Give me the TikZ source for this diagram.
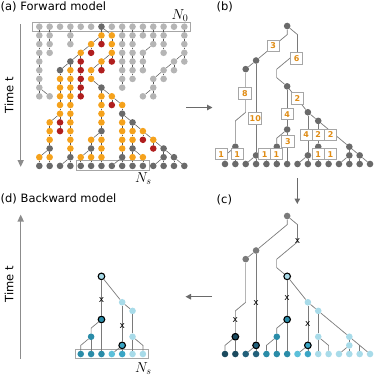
\documentclass[tikz,border=0pt]{standalone}
\usepackage{fontspec}
\newfontfamily\dv{DejaVu Sans}
\usetikzlibrary{arrows.meta}
\definecolor{lgray}{HTML}{B5B5B5}
\definecolor{dgray}{HTML}{6A6A6A}
\definecolor{egray}{HTML}{555555}
\definecolor{tgray}{HTML}{7A7A7A}
\definecolor{orng}{HTML}{F5A21C}
\definecolor{rd}{HTML}{B01E1E}
\definecolor{tA}{HTML}{1B4A5E}
\definecolor{tB}{HTML}{22607A}
\definecolor{tC}{HTML}{2A8CA8}
\definecolor{tD}{HTML}{5CC0DA}
\definecolor{tE}{HTML}{3AA5C5}
\definecolor{tF}{HTML}{A8DBE9}
\definecolor{numc}{HTML}{E08C14}
\newcommand\treeEdges[1]{%
 \draw[tlink] (#1R) -- (6,1) -- (#1B);
 \draw[tlink] (#1B) -- (#1C);
 \draw[tlink] (#1B) -- (#1D);
 \draw[llink] (#1C) -- (2,10);
 \draw[tlink] (2,10) -- (1,11) -- (#1E);
 \draw[tlink] (#1E) -- (0,15) -- (#1l0);
 \draw[tlink] (#1E) -- (#1l1);
 \draw[tlink] (#1D) -- (#1l2);
 \draw[tlink] (#1D) -- (#1l3);
 \draw[tlink] (#1R) -- (7,1) -- (7,3) -- (5,5);
 \draw[llink] (5,5) -- (5,6);
 \draw[tlink] (5,6) -- (#1A);
 \draw[tlink] (#1A) -- (#1F);
 \draw[tlink] (#1F) -- (5,13) -- (#1G);
 \draw[tlink] (#1F) -- (#1l6);
 \draw[tlink] (#1G) -- (4,15) -- (#1l4);
 \draw[tlink] (#1G) -- (#1l5);
 \draw[tlink] (#1A) -- (#1H);
 \draw[tlink] (#1H) -- (#1I);
 \draw[tlink] (#1I) -- (#1l7);
 \draw[tlink] (#1I) -- (#1l8);
 \draw[tlink] (#1H) -- (#1J);
 \draw[tlink] (#1J) -- (#1K);
 \draw[tlink] (#1K) -- (#1l9);
 \draw[tlink] (#1K) -- (10,15) -- (#1l10);
 \draw[tlink] (#1J) -- (#1L);
 \draw[tlink] (#1L) -- (#1M);
 \draw[tlink] (#1L) -- (#1N);
 \draw[tlink] (#1M) -- (#1l11);
 \draw[tlink] (#1M) -- (#1l12);
 \draw[tlink] (#1N) -- (#1l13);
 \draw[tlink] (#1N) -- (#1l14);
}
\begin{document}
\begin{tikzpicture}[x=1pt,y=-1pt,
  pdot/.style={circle,inner sep=0pt,minimum size=6.6pt,fill=#1},
  odot/.style={circle,inner sep=0pt,minimum size=6.6pt,fill=#1,draw=black,line width=1.1pt},
  lnk/.style={draw=egray,line width=0.5pt},
  tlink/.style={draw=tgray,line width=0.7pt},
  llink/.style={draw=lgray,line width=1.2pt},
  numbox/.style={draw=gray!70,fill=white,line width=0.7pt,minimum width=12.3pt,minimum height=11.3pt,inner sep=0pt,inner xsep=1pt,font=\dv\bfseries\fontsize{8}{8}\selectfont,text=numc},
  xmark/.style={font=\dv\fontsize{9}{9}\selectfont,inner sep=0pt,text=black},
  lbl/.style={font=\dv\fontsize{11.5}{13}\selectfont,inner sep=0pt},
  bigarrow/.style={draw=dgray,line width=1.2pt,-{Triangle[length=5.5pt,width=5.5pt]}},
  timearrow/.style={draw=gray!90,line width=1.6pt,-{Triangle[length=7pt,width=6pt]}},
  sbox/.style={draw=gray!70,line width=1pt}]
\useasboundingbox (0,0) rectangle (374,376);

% ---------- labels ----------
\node[lbl,anchor=base west] (la) at (0.5,10) {(a) Forward model};
\node[lbl,anchor=base west] (lb) at (216.5,10) {(b)};
\node[lbl,anchor=base west] (lc) at (216.5,203) {(c)};
\node[lbl,anchor=base west] (ld) at (0.5,202.5) {(d) Backward model};
\node[lbl,rotate=90] (ta) at (9,95) {Time t};
\node[lbl,rotate=90] (td) at (9,284) {Time t};
\coordinate (ta1) at (20.7,24); \coordinate (ta2) at (20.7,167);
\draw[timearrow] (ta1) -- (ta2);
\coordinate (td1) at (20.7,358.5); \coordinate (td2) at (20.7,214.5);
\draw[timearrow] (td1) -- (td2);

% ---------- panel arrows ----------
\coordinate (p1) at (186,107.5); \coordinate (p2) at (212.5,107.5);
\draw[bigarrow] (p1) -- (p2);
\coordinate (p3) at (297.3,178); \coordinate (p4) at (297.3,204);
\draw[bigarrow] (p3) -- (p4);
\coordinate (p5) at (212,296.7); \coordinate (p6) at (185.5,296.7);
\draw[bigarrow] (p5) -- (p6);

% ---------- panel (a) ----------
\draw[sbox] (32.8,22.6) rectangle (190.4,31);
\draw[sbox] (76,160.8) rectangle (149.3,170.8);
\node[anchor=base west,inner sep=0pt] (n0) at (171.5,19.3) {\Large $N_0$};
\node[anchor=base west,inner sep=0pt] (nsa) at (135,182.7) {\Large $N_s$};
\begin{scope}[shift={(39.3,26.7)},x=10.36pt,y=-8.7pt]
 \foreach \c/\r in {0/0,1/0,2/0,3/0,4/0,5/0,7/0,8/0,9/0,10/0,11/0,12/0,13/0,14/0,
   0/1,0/2,0/3,0/4,0/5,0/6,0/7,0/8,1/1,1/2,1/3,1/8,3/1,3/2,
   8/1,8/2,8/3,8/4,8/5,8/6,8/7,9/1,9/2,9/3,9/4,9/5,9/6,
   10/1,10/3,10/4,10/5,10/8,11/1,11/2,11/6,11/7,11/8,
   12/1,12/2,12/3,12/5,12/6,13/4,13/5,14/1,14/2,14/3,14/4}
   \node[pdot=lgray] (a\c-\r) at (\c,\r) {};
 \foreach \c/\r in {6/0,3/4,2/5,6/7,8/10,9/11,6/12,1/14,5/14,9/14,12/14,3/15,8/15,12/15,13/15}
   \node[pdot=dgray] (a\c-\r) at (\c,\r) {};
 \foreach \c in {0,...,14}
   \node[pdot=dgray] (a\c-16) at (\c,16) {};
 \foreach \c/\r in {6/1,5/2,4/3,7/1,7/2,7/3,6/4,5/5,5/6,
   3/5,3/6,3/7,3/8,3/9,3/10,3/11,3/12,3/13,3/14,
   2/6,2/7,2/8,2/9,2/10,1/11,1/12,1/13,0/15,1/15,
   6/8,6/9,6/10,6/11,7/8,8/9,8/11,8/12,8/13,8/14,9/12,9/13,10/12,11/13,
   5/13,6/13,6/14,6/15,4/15,5/15,9/15,10/15}
   \node[pdot=orng] (a\c-\r) at (\c,\r) {};
 \foreach \c/\r in {6/2,5/3,4/4,4/5,4/6,4/7,4/8,7/4,6/5,2/11,2/12,7/9,10/13,11/14}
   \node[pdot=rd] (a\c-\r) at (\c,\r) {};
 % vertical chains
 \foreach \c/\s/\e in {0/0/8,1/0/3,3/0/2,8/0/7,9/0/6,10/0/1,10/3/5,11/0/2,11/6/8,12/0/3,12/5/6,13/4/5,14/0/4,
   4/3/8,3/4/16,2/5/12,1/11/16,0/15/16,7/1/4,6/0/2,5/2/3,6/4/5,5/5/6,6/7/16,7/8/9,8/9/16,9/11/16,
   10/12/13,11/13/14,12/14/16,13/15/16,5/13/16,4/15/16,10/15/16}{
   \pgfmathtruncatemacro\ee{\e-1}
   \foreach \r in {\s,...,\ee}{
     \pgfmathtruncatemacro\rn{\r+1}
     \draw[lnk] (a\c-\r) -- (a\c-\rn);
   }
 }
 % diagonal links
 \foreach \p/\q in {0-7/1-8,11-2/10-3,14-3/13-4,13-4/12-5,12-5/11-6,11-7/10-8,
   6-0/7-1,6-1/5-2,5-2/4-3,4-3/3-4,3-4/2-5,2-10/1-11,1-14/0-15,3-15/2-16,
   7-3/6-4,6-4/5-5,5-6/6-7,6-7/7-8,7-8/8-9,8-10/9-11,9-11/10-12,10-12/11-13,
   11-13/12-14,12-14/13-15,13-15/14-16,12-15/11-16,6-12/5-13,5-14/4-15,8-15/7-16,9-14/10-15}
   \draw[lnk] (a\p) -- (a\q);
\end{scope}

% ---------- panel (b) ----------
\begin{scope}[shift={(225,26)},x=10.36pt,y=-8.625pt]
 \foreach \n/\c/\r in {R/6/0,B/3/4,C/2/5,A/6/7,F/6/12,G/5/14,H/8/10,J/9/11,K/9/14,L/12/14,M/12/15,N/13/15,E/1/14,D/3/15,I/8/15}
   \node[pdot=dgray] (b\n) at (\c,\r) {};
 \foreach \i in {0,...,14}
   \node[pdot=dgray] (bl\i) at (\i,16) {};
 \treeEdges{b}
 \node[numbox] (bn1) at (4.66,2.32) {3};
 \node[numbox] (bn2) at (6.92,3.74) {6};
 \node[numbox] (bn3) at (1.93,7.8) {8};
 \node[numbox] (bn4) at (2.92,10.7) {10};
 \node[numbox] (bn5) at (6.98,8.38) {2};
 \node[numbox] (bn6) at (6.0,10.22) {4};
 \node[numbox] (bn7) at (6.08,13.37) {3};
 \node[numbox] (bn8) at (7.84,12.58) {4};
 \node[numbox] (bn9) at (9.0,12.58) {2};
 \node[numbox] (bn10) at (10.2,12.58) {2};
 \node[numbox] (bn11) at (-0.37,14.86) {1};
 \node[numbox] (bn12) at (1.18,14.86) {1};
 \node[numbox] (bn13) at (3.84,14.86) {1};
 \node[numbox] (bn14) at (4.96,14.86) {1};
 \node[numbox] (bn15) at (9.0,14.86) {1};
 \node[numbox] (bn16) at (10.18,14.86) {1};
\end{scope}

% ---------- panel (c) ----------
\begin{scope}[shift={(225,216)},x=10.36pt,y=-8.625pt]
 \foreach \n/\c/\r in {R/6/0,B/3/4,C/2/5}
   \node[pdot=tgray] (c\n) at (\c,\r) {};
 \node[odot=tA] (cE) at (1,14) {};
 \node[odot=tB] (cD) at (3,15) {};
 \node[odot=tF] (cA) at (6,7) {};
 \node[odot=tC] (cF) at (6,12) {};
 \node[odot=tE] (cI) at (8,15) {};
 \node[pdot=tC] (cG) at (5,14) {};
 \foreach \n/\c/\r in {H/8/10,J/9/11,K/9/14,L/12/14,M/12/15}
   \node[pdot=tF] (c\n) at (\c,\r) {};
 \coordinate (cN) at (13,15);
 \foreach \i/\col in {0/tA,1/tA,2/tB,3/tB,4/tC,5/tC,6/tC,7/tD,8/tE,9/tF,10/tF,11/tF,12/tF,13/tF,14/tF}
   \node[pdot=\col] (cl\i) at (\i,16) {};
 \treeEdges{c}
 \node[xmark] (cx1) at (7,2.95) {x};
 \node[xmark] (cx2) at (1,12.1) {x};
 \node[xmark] (cx3) at (3,10.05) {x};
 \node[xmark] (cx4) at (6,9.54) {x};
 \node[xmark] (cx5) at (8,12.56) {x};
\end{scope}

% ---------- panel (d) ----------
\draw[sbox] (75.3,349.8) rectangle (148.7,358.6);
\node[anchor=base west,inner sep=0pt] (nsd) at (135,372.7) {\Large $N_s$};
\begin{scope}[shift={(39.3,216)},x=10.36pt,y=-8.625pt]
 \node[odot=tF] (dA) at (6,7) {};
 \node[odot=tC] (dF) at (6,12) {};
 \node[odot=tE] (dI) at (8,15) {};
 \node[pdot=tC] (dG) at (5,14) {};
 \foreach \n/\c/\r in {H/8/10,J/9/11,K/9/14}
   \node[pdot=tF] (d\n) at (\c,\r) {};
 \foreach \i/\col in {4/tC,5/tC,6/tC,7/tD,8/tE,9/tF,10/tF}
   \node[pdot=\col] (dl\i) at (\i,16) {};
 \draw[tlink] (dA) -- (dF);
 \draw[tlink] (dF) -- (5,13) -- (dG);
 \draw[tlink] (dF) -- (dl6);
 \draw[tlink] (dG) -- (4,15) -- (dl4);
 \draw[tlink] (dG) -- (dl5);
 \draw[tlink] (dA) -- (dH);
 \draw[tlink] (dH) -- (dI);
 \draw[tlink] (dI) -- (dl7);
 \draw[tlink] (dI) -- (dl8);
 \draw[tlink] (dH) -- (dJ);
 \draw[tlink] (dJ) -- (dK);
 \draw[tlink] (dK) -- (dl9);
 \draw[tlink] (dK) -- (10,15) -- (dl10);
 \node[xmark] (dx1) at (6,9.74) {x};
 \node[xmark] (dx2) at (8,12.7) {x};
\end{scope}
\end{tikzpicture}
\end{document}
